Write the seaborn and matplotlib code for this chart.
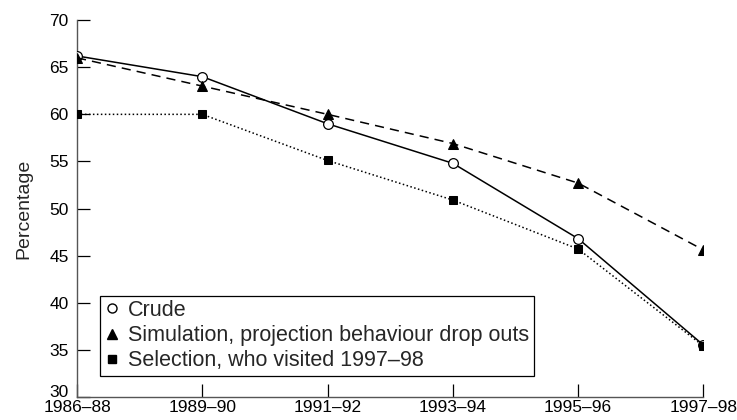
import numpy as np
import pandas as pd
import matplotlib
matplotlib.use("Agg")
import matplotlib.pyplot as plt
import matplotlib.transforms as mtransforms
import seaborn as sns
from matplotlib.lines import Line2D

# data
periods = ["1986–88", "1989–90", "1991–92", "1993–94", "1995–96", "1997–98"]
crude = [66.2, 64.0, 59.0, 54.8, 46.8, 35.5]
simulation = [66.0, 63.0, 60.0, 56.9, 52.7, 45.6]
selection = [60.0, 60.0, 55.1, 50.9, 45.7, 35.4]
labels = ["Crude", "Simulation, projection behaviour drop outs", "Selection, who visited 1997–98"]

sns.set_style("ticks")
plt.rcParams['font.family'] = ['Liberation Sans', 'DejaVu Sans']

fig = plt.figure(figsize=(7.37, 4.2), dpi=100)
ax = fig.add_axes([0.1045, 0.055, 0.85, 0.897])

x = np.arange(len(periods))
sns.lineplot(x=x, y=crude, ax=ax, color="black", lw=1.1, linestyle="-",
             marker="o", markersize=7, markerfacecolor="white", markeredgecolor="black",
             markeredgewidth=0.9, zorder=3)
sns.lineplot(x=x, y=simulation, ax=ax, color="black", lw=1.1, linestyle=(0, (6, 4)),
             marker="^", markersize=7, markerfacecolor="black", markeredgecolor="black", zorder=3)
sns.lineplot(x=x, y=selection, ax=ax, color="black", lw=1.1, linestyle=(0, (1, 1.6)),
             marker="s", markersize=6, markerfacecolor="black", markeredgecolor="black", zorder=3)

ax.set_xlim(0, 5)
ax.set_ylim(30, 70)
ax.set_xticks(x)
ax.set_xticklabels(periods)
ax.set_yticks(np.arange(30, 71, 5))
ax.tick_params(axis="both", direction="in", length=9.5, width=0.9, labelsize=12.5,
               colors="black")
ax.tick_params(axis="x", pad=2)
ax.tick_params(axis="y", pad=6)
for s in ["top", "right"]:
    ax.spines[s].set_visible(False)
for s in ["left", "bottom"]:
    ax.spines[s].set_color("#555555")
    ax.spines[s].set_linewidth(1.0)
ax.set_ylabel("Percentage", fontsize=14, labelpad=12)
ax.set_xlabel("")

# lift the "30" label a little, as in the original, so it clears the x labels
lbl30 = ax.get_yticklabels()[0]
lbl30.set_transform(lbl30.get_transform() + mtransforms.ScaledTranslation(0, 6 / 100, fig.dpi_scale_trans))

handles = [
    Line2D([], [], linestyle="none", marker="o", markersize=6.5, markerfacecolor="white",
           markeredgecolor="black"),
    Line2D([], [], linestyle="none", marker="^", markersize=6.5, color="black"),
    Line2D([], [], linestyle="none", marker="s", markersize=5.5, color="black"),
]
leg = ax.legend(handles, labels, loc="lower left", bbox_to_anchor=(0.037, 0.056),
                fontsize=15.5, frameon=True, fancybox=False, framealpha=1,
                edgecolor="black", handlelength=0.7, handletextpad=0.4,
                borderpad=0.2, labelspacing=0.2, borderaxespad=0)
leg.get_frame().set_linewidth(0.9)

fig.savefig("out.png", dpi=100)
